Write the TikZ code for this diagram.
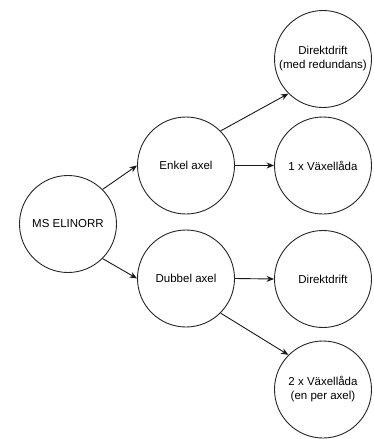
\documentclass[tikz,border=0pt]{standalone}
\usepackage{fontspec}
\setmainfont{Liberation Sans}
\usetikzlibrary{arrows.meta,positioning}
\tikzset{
  state/.style={draw=black!85, circle, fill=white, line width=0.9pt, minimum size=97pt, inner sep=0pt, align=center, font=\fontsize{11.5}{14}\selectfont},
  arrow/.style={-{Stealth[length=7.5pt,width=6pt]}, line width=0.9pt, draw=black!90}
}
\begin{document}
\begin{tikzpicture}[x=1pt, y=-1pt]
\useasboundingbox (0,0) rectangle (374,439);
% root (left)
\node[state] (ship) at (68,224) {MS ELINORR};
% shafts (center)
\node[state] (single) at (186,165.5) {Enkel axel};
\node[state] (double) at (186,278.5) {Dubbel axel};
% drives (right)
\node[state] (directred) at (323,59) {Direktdrift\\(med redundans)};
\node[state] (gearone) at (323,165.5) {1 x Växellåda};
\node[state] (direct) at (323,279) {Direktdrift};
\node[state] (geartwo) at (323,389.5) {2 x Växellåda\\(en per axel)};
\draw[arrow] (ship.45) -- (single.west);
\draw[arrow] (ship.-45) -- (double.west);
\draw[arrow] (single.45) -- (directred.225);
\draw[arrow] (single.east) -- (gearone.west);
\draw[arrow] (double.east) -- (direct.west);
\draw[arrow] (double.-45) -- (geartwo.135);
\end{tikzpicture}
\end{document}
